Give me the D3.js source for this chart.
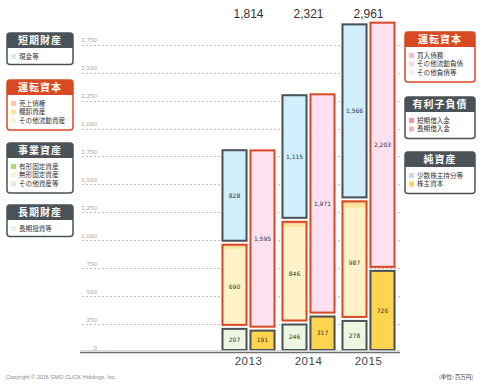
<!DOCTYPE html>
<html>
<head>
<meta charset="utf-8">
<script src="https://cdn.jsdelivr.net/npm/d3@7"></script>
<style>
  body { margin: 0; background: #fff; }
  svg { display: block; }
</style>
</head>
<body>
<svg id="chart" width="480" height="386"></svg>
<script>
// --- data (百万円) ---
const years = ["2013", "2014", "2015"];
const totals = [1814, 2321, 2961];
const cashEtc = [828, 1115, 1566];
const receivables = [25, 30, 30];
const inventories = [20, 25, 35];
const otherCurrent = [690, 846, 987];
const businessAssets = [207, 246, 278];
const operatingLiab = [1595, 1971, 2203];
const shareholdersEquity = [191, 317, 726];
const yTicks = d3.range(0, 2751, 250);

const leftLegendTitles = ["短期財産", "運転資本", "事業資産", "長期財産"];
const leftLegendItems = [
  ["現金等"],
  ["売上債権", "棚卸資産", "その他流動資産"],
  ["有形固定資産", "無形固定資産", "その他資産等"],
  ["長期投資等"]
];
const rightLegendTitles = ["運転資本", "有利子負債", "純資産"];
const rightLegendItems = [
  ["買入債務", "その他流動負債", "その他負債等"],
  ["短期借入金", "長期借入金"],
  ["少数株主持分等", "株主資本"]
];

// --- styles ---
const DARK = "#4b5258";
const ORANGE = "#d84a24";
const C = {
  cash: "#d0eefb", recv: "#fccba2", inv: "#fde497", otherCur: "#fff2c9",
  tangible: "#a9dc6f", intangible: "#eef6e6", otherAssets: "#e2f2cc", longInv: "#def3fb",
  otherLiab: "#fde1f0", shortLoan: "#f49a9a", longLoan: "#f6b4b4",
  minority: "#cfd2f6", equity: "#ffd54f"
};
const leftLegendColors = [[C.cash], [C.recv, C.inv, C.otherCur], [C.tangible, C.intangible, C.otherAssets], [C.longInv]];
const leftLegendThemes = [DARK, ORANGE, DARK, DARK];
const rightLegendColors = [["#f8b4d3", "#fcd7ea", "#fdeaf4"], [C.shortLoan, C.longLoan], [C.minority, C.equity]];
const rightLegendThemes = [ORANGE, DARK, DARK];

const NUM_FONT = "'DejaVu Sans', Verdana, sans-serif";
const LAT_FONT = "'Liberation Sans', Arial, sans-serif";
const JP_FONT = "'Noto Sans CJK JP', 'Noto Sans', sans-serif";

const svg = d3.select("#chart");

// --- scales ---
const y = d3.scaleLinear().domain([0, 2750]).range([352, 44.7]);
const xYear = d3.scaleBand().domain(years).range([218.5, 398.5]);
const xSide = d3.scaleBand().domain(["assets", "liab"]).range([3, 57]).paddingInner(0.0714);

// --- grid + axis labels ---
const grid = svg.append("g");
grid.selectAll("line")
  .data(yTicks.filter(d => d > 0))
  .join("line")
  .attr("x1", 82).attr("x2", 400)
  .attr("y1", d => Math.round(y(d)) + 0.5)
  .attr("y2", d => Math.round(y(d)) + 0.5)
  .attr("stroke", "#bfbfbf")
  .attr("stroke-dasharray", "2,2");

grid.selectAll("text")
  .data(yTicks)
  .join("text")
  .attr("x", 97)
  .attr("y", d => y(d) - 2.5)
  .attr("text-anchor", "end")
  .attr("font-family", NUM_FONT)
  .attr("font-size", 5.5)
  .attr("fill", "#a0a0a0")
  .text(d => d3.format(",")(d));

// --- bars ---
const bars = [];
years.forEach((yr, i) => {
  bars.push({
    year: yr, side: "assets",
    groups: [
      { border: DARK, segs: [{ v: businessAssets[i], c: "#edf6e1" }] },
      { border: ORANGE, segs: [{ v: otherCurrent[i], c: C.otherCur }, { v: inventories[i], c: C.inv }, { v: receivables[i], c: C.recv }] },
      { border: DARK, segs: [{ v: cashEtc[i], c: C.cash }] }
    ]
  });
  bars.push({
    year: yr, side: "liab",
    groups: [
      { border: DARK, segs: [{ v: shareholdersEquity[i], c: C.equity }] },
      { border: ORANGE, segs: [{ v: operatingLiab[i], c: C.otherLiab }] }
    ]
  });
});

const gap = 2;
const barG = svg.append("g");
bars.forEach(b => {
  const x0 = xYear(b.year) + xSide(b.side);
  const w = xSide.bandwidth();
  let cum = 0;
  b.groups.forEach((g, gi) => {
    const off = 1 + gi * gap;
    const sum = d3.sum(g.segs, s => s.v);
    const bottom = y(cum) - off;
    const top = y(cum + sum) - off;
    let sc = cum;
    g.segs.forEach(s => {
      barG.append("rect")
        .attr("x", x0).attr("width", w)
        .attr("y", y(sc + s.v) - off)
        .attr("height", y(sc) - y(sc + s.v))
        .attr("fill", s.c);
      sc += s.v;
    });
    barG.append("rect")
      .attr("x", x0 + 1).attr("y", top + 1)
      .attr("width", w - 2).attr("height", bottom - top - 2)
      .attr("fill", "none")
      .attr("stroke", g.border)
      .attr("stroke-width", 2);
    const main = g.segs[0];
    barG.append("text")
      .attr("x", x0 + w / 2)
      .attr("y", (y(cum) + y(cum + main.v)) / 2 - off)
      .attr("dy", "0.35em")
      .attr("text-anchor", "middle")
      .attr("font-family", NUM_FONT)
      .attr("font-size", 6)
      .attr("fill", "#333")
      .text(d3.format(",")(main.v));
    cum += sum;
  });
});

// baseline
svg.append("line")
  .attr("x1", 80).attr("x2", 400)
  .attr("y1", 352.5).attr("y2", 352.5)
  .attr("stroke", "#6f6f6f").attr("stroke-width", 1.5);
svg.append("line")
  .attr("x1", 80).attr("x2", 400)
  .attr("y1", 350.5).attr("y2", 350.5)
  .attr("stroke", "#cfcfcf").attr("stroke-width", 0.8);

// year labels + totals
svg.append("g").selectAll("text")
  .data(years)
  .join("text")
  .attr("x", d => xYear(d) + xYear.bandwidth() / 2)
  .attr("y", 365)
  .attr("text-anchor", "middle")
  .attr("font-family", LAT_FONT)
  .attr("font-size", 11.5)
  .attr("letter-spacing", 0.5)
  .attr("fill", "#444")
  .text(d => d);

svg.append("g").selectAll("text")
  .data(totals)
  .join("text")
  .attr("x", (d, i) => xYear(years[i]) + xYear.bandwidth() / 2)
  .attr("y", 18)
  .attr("text-anchor", "middle")
  .attr("font-family", LAT_FONT)
  .attr("font-size", 12)
  .attr("fill", "#333")
  .text(d => d3.format(",")(d));

// --- legends ---
function drawLegend(x, top, w, title, theme, items, colors) {
  const headH = 15, first = 8.5, step = 8.5;
  const lastY = top + headH + first + (items.length - 1) * step;
  const bottom = lastY + (items.length > 1 ? 9.5 : 8);
  const g = svg.append("g");
  g.append("rect")
    .attr("x", x).attr("y", top)
    .attr("width", w).attr("height", bottom - top)
    .attr("rx", 3).attr("fill", "#fff")
    .attr("stroke", theme).attr("stroke-width", 1.5);
  g.append("path")
    .attr("d", `M${x},${top + headH} V${top + 3} Q${x},${top} ${x + 3},${top} H${x + w - 3} Q${x + w},${top} ${x + w},${top + 3} V${top + headH} Z`)
    .attr("fill", theme);
  g.append("text")
    .attr("x", x + w / 2).attr("y", top + headH / 2)
    .attr("dy", "0.36em")
    .attr("text-anchor", "middle")
    .attr("font-family", JP_FONT)
    .attr("font-weight", "bold")
    .attr("font-size", 10)
    .attr("letter-spacing", 1)
    .attr("fill", "#fff")
    .text(title);
  items.forEach((t, k) => {
    const cy = top + headH + first + k * step;
    g.append("rect")
      .attr("x", x + 4).attr("y", cy - 2.5)
      .attr("width", 5).attr("height", 5)
      .attr("fill", colors[k]);
    g.append("text")
      .attr("x", x + 12).attr("y", cy)
      .attr("dy", "0.35em")
      .attr("font-family", JP_FONT)
      .attr("font-size", 6.6)
      .attr("fill", "#333")
      .text(t);
  });
}

const leftTops = [33, 80, 143, 205];
leftLegendTitles.forEach((t, i) =>
  drawLegend(7, leftTops[i], 66, t, leftLegendThemes[i], leftLegendItems[i], leftLegendColors[i]));
const rightTops = [32, 97, 152];
rightLegendTitles.forEach((t, i) =>
  drawLegend(405, rightTops[i], 70, t, rightLegendThemes[i], rightLegendItems[i], rightLegendColors[i]));

// --- footer ---
svg.append("text")
  .attr("x", 6).attr("y", 379)
  .attr("font-family", LAT_FONT)
  .attr("font-size", 5.5)
  .attr("fill", "#888")
  .text("Copyright © 2016 GMO CLICK Holdings, Inc.");
svg.append("text")
  .attr("x", 473).attr("y", 379)
  .attr("text-anchor", "end")
  .attr("font-family", JP_FONT)
  .attr("font-size", 5.5)
  .attr("fill", "#333")
  .text("(単位: 百万円)");
</script>
</body>
</html>
